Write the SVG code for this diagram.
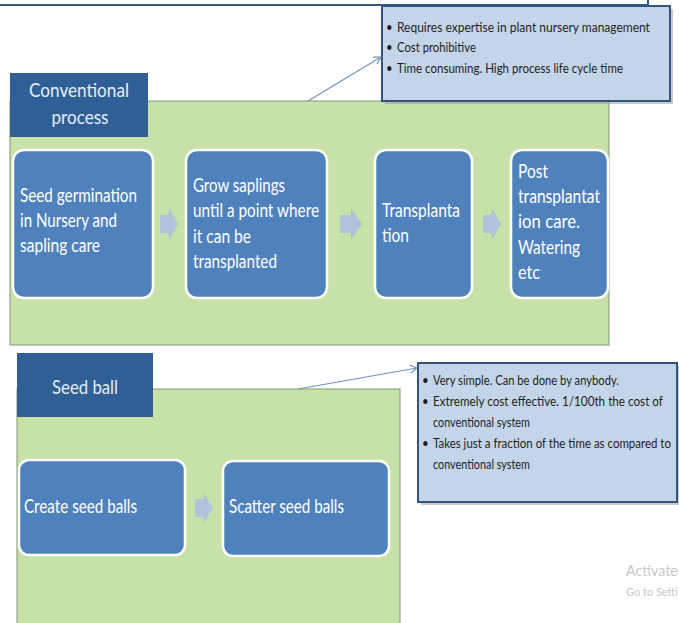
<svg xmlns="http://www.w3.org/2000/svg" width="679" height="623" viewBox="0 0 679 623">
<defs>
<style>
.panel{fill:#c8e1a8;stroke:#7f9a74;stroke-width:1}
.title{fill:#2f5f95}
.ttxt{font-family:Lato,"Liberation Sans",sans-serif;font-size:20px;fill:#e6edf5;text-anchor:middle}
.box{fill:#4f81bd;stroke:#ffffff;stroke-width:2.5}
.btxt{font-family:Lato,"Liberation Sans",sans-serif;font-size:18.5px;fill:#ffffff}
.chev{fill:#b2c2dc}
.call{fill:#c5d5e9;stroke:#34547c;stroke-width:2}
.shadow{fill:#8a96a6;opacity:0.5}
.ctxt{font-family:Lato,"Liberation Sans",sans-serif;font-size:13.5px;fill:#1e1e1e}
.conn{stroke:#7391bd;stroke-width:1.2;fill:none}
.wm{font-family:Lato,"Liberation Sans",sans-serif;fill:#c8c8c8}
</style>
<marker id="ah" markerWidth="10" markerHeight="10" refX="8" refY="5" orient="auto" markerUnits="userSpaceOnUse">
<path d="M1,1 L8,5 L1,9" fill="none" stroke="#7391bd" stroke-width="1.2"/>
</marker>
</defs>
<rect width="679" height="623" fill="#ffffff"/>
<path d="M0,5 H648 V0" fill="none" stroke="#2e5a8a" stroke-width="2"/>

<g id="panel-conventional">
<rect class="panel" x="10" y="101" width="599" height="244"/>
</g>
<g id="title-conventional">
<rect class="title" x="10" y="73" width="138" height="64"/>
<text class="ttxt" x="79" y="97" textLength="100" lengthAdjust="spacingAndGlyphs">Conventional</text>
<text class="ttxt" x="80" y="124" textLength="57" lengthAdjust="spacingAndGlyphs">process</text>
</g>

<g id="callout-conventional">
<rect class="shadow" x="385" y="9" width="288" height="95"/>
<rect class="call" x="382" y="6" width="288" height="95"/>
<g transform="translate(386,0) scale(0.85,1)">
<text class="ctxt" x="0" y="32">•</text>
<text class="ctxt" x="12.9" y="32" textLength="297.6" lengthAdjust="spacingAndGlyphs">Requires  expertise in plant  nursery  management</text>
<text class="ctxt" x="0" y="52">•</text>
<text class="ctxt" x="12.9" y="52" textLength="92.9" lengthAdjust="spacingAndGlyphs">Cost prohibitive</text>
<text class="ctxt" x="0" y="73">•</text>
<text class="ctxt" x="12.9" y="73" textLength="265.9" lengthAdjust="spacingAndGlyphs">Time consuming. High process life cycle time</text>
</g>
</g>

<g id="step-germination">
<rect class="box" x="13" y="150" width="140" height="148" rx="11"/>
<text class="btxt" x="20" y="202" textLength="117" lengthAdjust="spacingAndGlyphs">Seed germination</text>
<text class="btxt" x="20" y="227" textLength="97" lengthAdjust="spacingAndGlyphs">in Nursery and</text>
<text class="btxt" x="20" y="252" textLength="80" lengthAdjust="spacingAndGlyphs">sapling care</text>
</g>
<g id="step-grow">
<rect class="box" x="186" y="150" width="141" height="148" rx="11"/>
<text class="btxt" x="193" y="192" textLength="92" lengthAdjust="spacingAndGlyphs">Grow saplings</text>
<text class="btxt" x="193" y="217" textLength="126" lengthAdjust="spacingAndGlyphs">until a point where</text>
<text class="btxt" x="193" y="243" textLength="58" lengthAdjust="spacingAndGlyphs">it can be</text>
<text class="btxt" x="193" y="268" textLength="84" lengthAdjust="spacingAndGlyphs">transplanted</text>
</g>
<g id="step-transplant">
<rect class="box" x="375" y="150" width="97" height="148" rx="11"/>
<text class="btxt" x="382" y="217" textLength="78" lengthAdjust="spacingAndGlyphs">Transplanta</text>
<text class="btxt" x="382" y="242" textLength="27" lengthAdjust="spacingAndGlyphs">tion</text>
</g>
<g id="step-post">
<rect class="box" x="511" y="150" width="97" height="148" rx="11"/>
<text class="btxt" x="518" y="178" textLength="30" lengthAdjust="spacingAndGlyphs">Post</text>
<text class="btxt" x="518" y="203" textLength="82" lengthAdjust="spacingAndGlyphs">transplantat</text>
<text class="btxt" x="518" y="228" textLength="62" lengthAdjust="spacingAndGlyphs">ion care.</text>
<text class="btxt" x="518" y="254" textLength="62" lengthAdjust="spacingAndGlyphs">Watering</text>
<text class="btxt" x="518" y="279" textLength="22" lengthAdjust="spacingAndGlyphs">etc</text>
</g>

<g id="panel-seedball">
<rect class="panel" x="17" y="389" width="383" height="240"/>
</g>
<g id="title-seedball">
<rect class="title" x="17" y="353" width="136" height="64"/>
<text class="ttxt" x="85" y="394" textLength="66" lengthAdjust="spacingAndGlyphs">Seed ball</text>
</g>

<g id="callout-seedball">
<rect class="shadow" x="421" y="366" width="258" height="139"/>
<rect class="call" x="418" y="363" width="259" height="139"/>
<g transform="translate(422,0) scale(0.85,1)">
<text class="ctxt" x="0" y="385">•</text>
<text class="ctxt" x="12.9" y="385" textLength="218.8" lengthAdjust="spacingAndGlyphs">Very simple. Can be done by anybody.</text>
<text class="ctxt" x="0" y="406">•</text>
<text class="ctxt" x="12.9" y="406" textLength="270.6" lengthAdjust="spacingAndGlyphs">Extremely cost effective. 1/100th the cost of</text>
<text class="ctxt" x="12.9" y="427" textLength="114.1" lengthAdjust="spacingAndGlyphs">conventional system</text>
<text class="ctxt" x="0" y="448">•</text>
<text class="ctxt" x="12.9" y="448" textLength="280" lengthAdjust="spacingAndGlyphs">Takes just a fraction of the time as compared to</text>
<text class="ctxt" x="12.9" y="469" textLength="114.1" lengthAdjust="spacingAndGlyphs">conventional system</text>
</g>
</g>

<g id="step-create">
<rect class="box" x="19" y="460" width="166" height="95" rx="10"/>
<text class="btxt" x="24" y="513" textLength="113" lengthAdjust="spacingAndGlyphs">Create seed balls</text>
</g>
<g id="step-scatter">
<rect class="box" x="223" y="461" width="166" height="95" rx="10"/>
<text class="btxt" x="229" y="513" textLength="115" lengthAdjust="spacingAndGlyphs">Scatter seed balls</text>
</g>

<g id="connectors">
<path class="chev" d="M160,215 H169 V208 L178,224 L169,240 V233 H160 Z"/>
<path class="chev" d="M340,215 H351 V208 L362,224 L351,240 V233 H340 Z"/>
<path class="chev" d="M483,215 H492 V208 L501,224 L492,240 V233 H483 Z"/>
<path class="chev" d="M195,499 H204 V493 L213,508 L204,523 V517 H195 Z"/>
<line class="conn" x1="308" y1="101" x2="381" y2="57" marker-end="url(#ah)"/>
<line class="conn" x1="298" y1="389" x2="417" y2="368" marker-end="url(#ah)"/>
</g>

<g transform="translate(626,0) scale(0.85,1)">
<text class="wm" x="0" y="576" font-size="16" textLength="61" lengthAdjust="spacingAndGlyphs">Activate</text>
<text class="wm" x="0" y="596" font-size="10.5" textLength="61" lengthAdjust="spacingAndGlyphs">Go to Setti</text>
</g>
</svg>
